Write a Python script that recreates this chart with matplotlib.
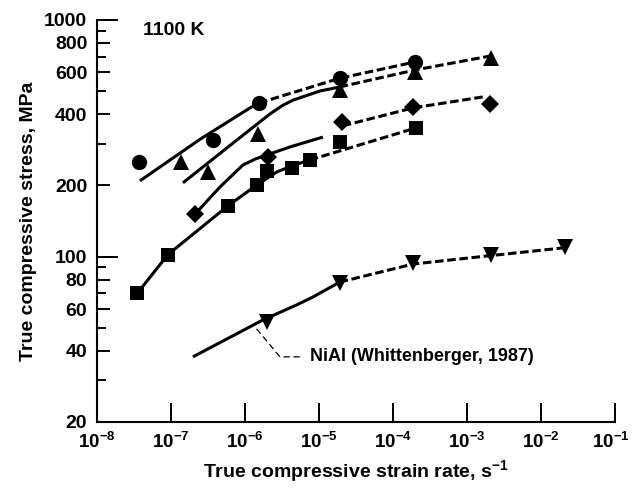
import matplotlib
matplotlib.use("Agg")
import matplotlib.pyplot as plt
from matplotlib.ticker import FixedLocator, FixedFormatter, NullFormatter
from matplotlib.transforms import ScaledTranslation

plt.rcParams['font.family'] = ['Liberation Sans', 'DejaVu Sans']
plt.rcParams['font.weight'] = 'bold'
plt.rcParams['axes.labelweight'] = 'bold'

# measured points (strain rate in 1/s, stress in MPa)
circ_rate = [3.7e-8, 3.7e-7, 1.55e-6, 1.9e-5, 2.0e-4]
circ_stress = [250, 310, 446, 567, 665]

tri_rate = [1.36e-7, 3.2e-7, 1.5e-6, 1.9e-5, 2.0e-4, 2.1e-3]
tri_stress = [252, 228, 330, 506, 603, 690]

dia_rate = [2.1e-7, 2.05e-6, 2.05e-5, 1.86e-4, 2.05e-3]
dia_stress = [151, 264, 371, 429, 441]

sq_rate = [3.5e-8, 9.1e-8, 5.9e-7, 1.45e-6, 1.98e-6, 4.3e-6, 7.5e-6, 1.9e-5, 2.05e-4]
sq_stress = [70, 102, 164, 201, 230, 237, 256, 305, 350]

nial_rate = [1.98e-6, 1.9e-5, 1.86e-4, 2.1e-3, 2.1e-2]
nial_stress = [53, 77, 94, 102, 110]

# fitted curves: solid part and dashed extrapolation
circ_fit_rate = [3.8e-8, 2.5e-7, 1.17e-6, 1.55e-6]
circ_fit_stress = [209, 314, 425, 446]
circ_ext_rate = [1.55e-6, 1.9e-5, 2.0e-4]
circ_ext_stress = [446, 567, 665]

tri_fit_rate = [1.45e-7, 6.9e-7, 2.18e-6, 3.2e-6, 4.5e-6, 1.03e-5, 1.9e-5]
tri_fit_stress = [205, 302, 401, 435, 459, 501, 521]
tri_ext_rate = [1.9e-5, 2.0e-4, 2.1e-3]
tri_ext_stress = [521, 615, 705]

dia_fit_rate = [2.1e-7, 4.6e-7, 9.4e-7, 1.4e-6, 1.98e-6, 4.1e-6, 1.13e-5]
dia_fit_stress = [151, 197, 244, 259, 269, 291, 320]
dia_ext_rate = [2.1e-5, 1.86e-4, 1.64e-3]
dia_ext_stress = [357, 425, 473]

sq_fit_rate = [3.5e-8, 9.1e-8, 5.9e-7, 1.45e-6, 2.7e-6, 4.5e-6, 7.5e-6]
sq_fit_stress = [70, 102, 164, 201, 228, 243, 256]
sq_ext_rate = [7.5e-6, 2.05e-4]
sq_ext_stress = [256, 350]

nial_fit_rate = [1.98e-7, 1.75e-6, 5.0e-6, 8.3e-6, 1.9e-5]
nial_fit_stress = [37.7, 54, 62.5, 67.5, 78]
nial_ext_rate = [1.9e-5, 1.86e-4, 2.1e-3, 2.1e-2]
nial_ext_stress = [78, 93, 101, 109]

leader_rate = [5.5e-6, 2.97e-6, 1.36e-6]
leader_stress = [37.7, 37.7, 50.5]

x_ticks = [1e-8, 1e-7, 1e-6, 1e-5, 1e-4, 1e-3, 1e-2, 1e-1]
x_labels = [r'$\mathdefault{10^{-%d}}$' % n for n in range(8, 0, -1)]
y_ticks = [20, 40, 60, 80, 100, 200, 400, 600, 800, 1000]
y_minor = [30, 50, 70, 90, 300, 500, 700, 900]

fig = plt.figure(figsize=(6.32, 4.90), dpi=100)
ax = fig.add_axes([0.1535, 0.1388, 0.8195, 0.8204])
ax.set_xscale('log')
ax.set_yscale('log')
ax.set_xlim(1e-8, 1e-1)
ax.set_ylim(20, 1000)

lw = 2.2
dash = (0, (2.8, 1.2))
for r, s in [(circ_fit_rate, circ_fit_stress), (tri_fit_rate, tri_fit_stress),
             (dia_fit_rate, dia_fit_stress), (sq_fit_rate, sq_fit_stress),
             (nial_fit_rate, nial_fit_stress)]:
    ax.plot(r, s, color='black', lw=lw, solid_capstyle='butt', solid_joinstyle='round')
for r, s in [(circ_ext_rate, circ_ext_stress), (tri_ext_rate, tri_ext_stress),
             (dia_ext_rate, dia_ext_stress), (sq_ext_rate, sq_ext_stress),
             (nial_ext_rate, nial_ext_stress)]:
    ax.plot(r, s, color='black', lw=lw, linestyle=dash)

ax.plot(circ_rate, circ_stress, 'o', color='black', ms=11, mew=0)
ax.plot(tri_rate, tri_stress, '^', color='black', ms=11, mew=0)
ax.plot(dia_rate, dia_stress, 'D', color='black', ms=9, mew=0)
ax.plot(sq_rate, sq_stress, 's', color='black', ms=10.5, mew=0)
ax.plot(nial_rate, nial_stress, 'v', color='black', ms=11, mew=0)

ax.plot(leader_rate, leader_stress, color='black', lw=0.9, linestyle=(0, (5, 3)))
ax.text(7.5e-6, 37.7, 'NiAl (Whittenberger, 1987)', fontsize=13, va='center', ha='left')
ax.text(0.089, 0.975, '1100 K', transform=ax.transAxes, fontsize=14, va='center', ha='left')

ax.xaxis.set_major_locator(FixedLocator(x_ticks))
ax.xaxis.set_major_formatter(FixedFormatter(x_labels))
ax.xaxis.set_minor_locator(FixedLocator([]))
ax.yaxis.set_major_locator(FixedLocator(y_ticks))
ax.yaxis.set_major_formatter(FixedFormatter([str(v) for v in y_ticks]))
ax.yaxis.set_minor_locator(FixedLocator(y_minor))
ax.yaxis.set_minor_formatter(NullFormatter())

ax.tick_params(axis='x', which='major', direction='in', length=13.7, width=1.4,
               pad=7, labelsize=13.5)
ax.tick_params(axis='y', which='major', direction='in', length=9.4, width=1.4,
               pad=7, labelsize=14)
ax.tick_params(axis='y', which='minor', direction='in', length=6.5, width=1.4)

# keep the last x label inside the figure
last = ax.get_xticklabels()[-1]
last.set_transform(last.get_transform() + ScaledTranslation(-4 / 100, 0, fig.dpi_scale_trans))

# longer ticks at the decades
for v in [100, 1000]:
    ax.plot([0, 0.039], [v, v], color='black', lw=1.4,
            transform=ax.get_yaxis_transform(), clip_on=False)

for side in ['top', 'right']:
    ax.spines[side].set_visible(False)
for side in ['left', 'bottom']:
    ax.spines[side].set_linewidth(1.5)

ax.set_xlabel(r'True compressive strain rate, s$^{\mathdefault{-1}}$', fontsize=14, labelpad=5)
ax.set_ylabel('True compressive stress, MPa', fontsize=14, labelpad=5)

fig.savefig('out.png', dpi=100)
